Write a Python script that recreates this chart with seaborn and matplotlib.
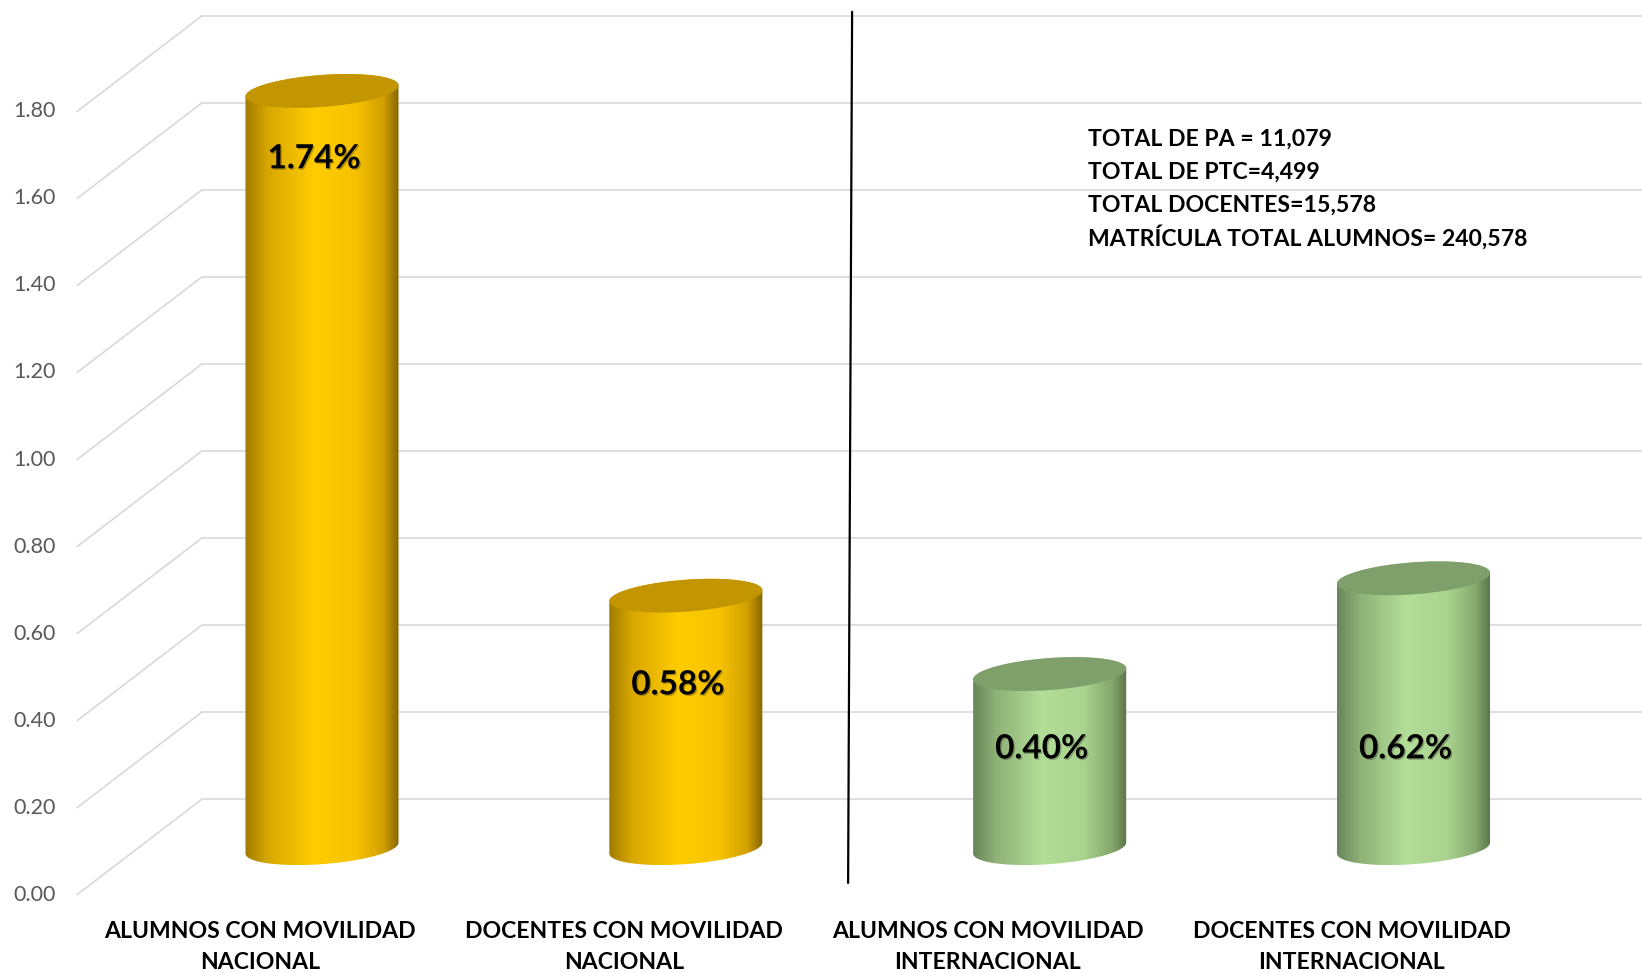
import numpy as np
import matplotlib
matplotlib.use("Agg")
import matplotlib.pyplot as plt
import matplotlib.patheffects as pe
from matplotlib.colors import LinearSegmentedColormap
from matplotlib.path import Path
from matplotlib.patches import PathPatch, Polygon
import seaborn as sns

# datos
categories = ["ALUMNOS CON MOVILIDAD\nNACIONAL", "DOCENTES CON MOVILIDAD\nNACIONAL",
              "ALUMNOS CON MOVILIDAD\nINTERNACIONAL", "DOCENTES CON MOVILIDAD\nINTERNACIONAL"]
values = [1.74, 0.58, 0.40, 0.62]
groups = ["nacional", "nacional", "internacional", "internacional"]
y_ticks = [0.0, 0.2, 0.4, 0.6, 0.8, 1.0, 1.2, 1.4, 1.6, 1.8]
totals = ["TOTAL DE PA = 11,079", "TOTAL DE PTC=4,499",
          "TOTAL DOCENTES=15,578", "MATRÍCULA TOTAL ALUMNOS= 240,578"]

# estilo
base_color = {"nacional": "#FFC000", "internacional": "#A9D18E"}
grad_stops = {
    "nacional": ["#A07C00", "#D9A800", "#FFCC00", "#F7C200", "#D2A000", "#866600"],
    "internacional": ["#67855A", "#8FB277", "#B3DE98", "#A9D38E", "#86A96E", "#5A7449"],
}
top_color = {"nacional": "#C39500", "internacional": "#7F9F6B"}
label_pos = [1.584, 0.375, 0.228, 0.228]

sns.set_style("white")
plt.rcParams['font.family'] = ['Lato', 'DejaVu Sans']

fig = plt.figure(figsize=(16.42, 9.73), dpi=100)
ax = fig.add_axes([0, 0, 1, 1])

bar_w = 0.4206
sns.barplot(x=categories, y=values, hue=categories,
            palette=[base_color[g] for g in groups],
            width=bar_w, legend=False, ax=ax, zorder=2)

# perspectiva (pared del fondo / plano frontal)
back_dx, back_dy = -0.330, 0.1126
front_dx, front_dy = -0.673, -0.107
x_right = 3.63

for v in y_ticks:
    ax.plot([front_dx, back_dx], [v + front_dy, v + back_dy], color="#D9D9D9", lw=1.2, zorder=0)
    ax.plot([back_dx, x_right], [v + back_dy, v + back_dy], color="#D9D9D9", lw=1.2, zorder=0)
    ax.text(-0.731, v + front_dy, f"{v:.2f}", ha="right", va="center",
            fontsize=15.5, color="#595959")

# cilindros
b = 0.0368   # semieje menor de la elipse
s = 0.0126   # inclinacion
t_low = np.linspace(np.pi, 2 * np.pi, 60)
t_up = np.linspace(0, np.pi, 60)
t_full = np.linspace(0, 2 * np.pi, 120)

for p in ax.patches:
    h = p.get_height()
    if not np.isfinite(h) or h == 0:
        continue
    x0, w = p.get_x(), p.get_width()
    xc = x0 + w / 2
    i = int(round(xc))
    g = groups[i]
    p.set_visible(False)

    xs = np.concatenate([xc + w / 2 * np.cos(t_low), xc + w / 2 * np.cos(t_up)])
    ys = np.concatenate([b * np.sin(t_low) + s * np.cos(t_low),
                         h + b * np.sin(t_up) + s * np.cos(t_up)])
    clip = PathPatch(Path(np.column_stack([xs, ys])), transform=ax.transData,
                     facecolor="none", edgecolor="none")
    ax.add_patch(clip)
    cmap = LinearSegmentedColormap.from_list(
        g, list(zip([0, 0.15, 0.45, 0.72, 0.9, 1.0], grad_stops[g])))
    im = ax.imshow(np.linspace(0, 1, 256)[np.newaxis, :], extent=[x0, x0 + w, -0.1, h + 0.1],
                   aspect="auto", cmap=cmap, zorder=2, origin="lower")
    im.set_clip_path(clip)

    top = np.column_stack([xc + w / 2 * np.cos(t_full),
                           h + b * np.sin(t_full) + s * np.cos(t_full)])
    ax.add_patch(Polygon(top, closed=True, facecolor=top_color[g], edgecolor="none", zorder=3))

    ax.text(xc - 0.022, label_pos[i], f"{values[i]:.2f}%", ha="center", va="center",
            fontsize=24, fontweight="bold", color="black", zorder=5,
            path_effects=[pe.withSimplePatchShadow(offset=(1, -1), shadow_rgbFace="black", alpha=0.25)])

# etiquetas de categoria (plano frontal)
for k, c in enumerate(categories):
    ax.text(-0.170 + k, -0.227, c, ha="center", va="center", multialignment="center",
            fontsize=16.6, fontweight="bold", color="black", linespacing=1.55)

# linea divisoria
ax.plot([1.457, 1.446], [1.922, -0.080], color="black", lw=1.6, zorder=5)

# totales
for j, line in enumerate(totals):
    ax.text(2.106, 1.628 - 0.075 * j, line, ha="left", va="center", fontsize=16.6,
            fontweight="bold", color="black")

ax.set_xlim(-0.885, 3.628)
ax.set_ylim(-0.287, 1.949)
ax.axis("off")

fig.savefig("out.png", dpi=100)
